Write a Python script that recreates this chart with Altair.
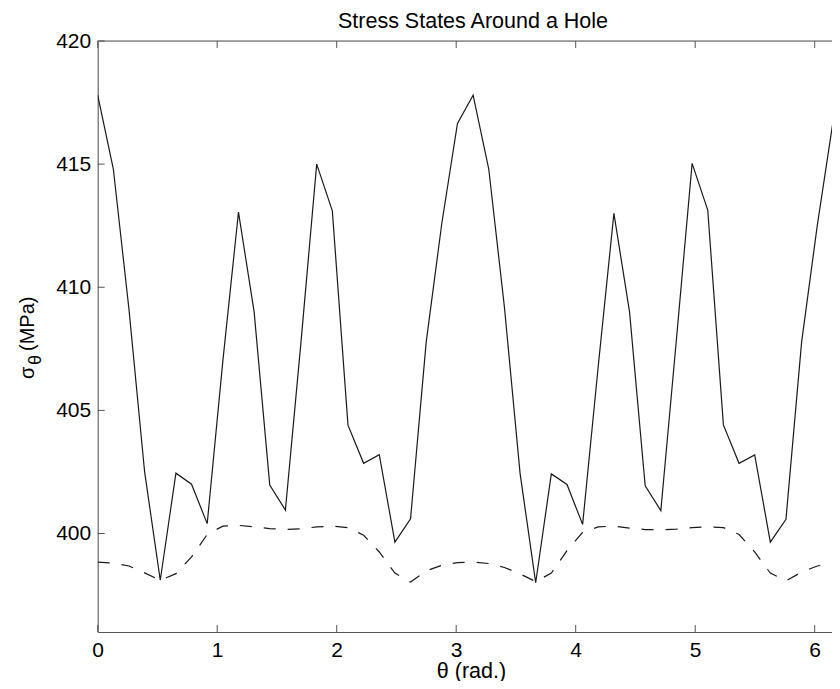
import altair as alt
import pandas as pd

# ---- data ----
theta = [0.0, 0.1309, 0.2618, 0.3927, 0.5236, 0.6545, 0.7854, 0.9163, 1.0472, 1.1781,
         1.3090, 1.4399, 1.5708, 1.7017, 1.8326, 1.9635, 2.0944, 2.2253, 2.3562, 2.4871,
         2.6180, 2.7489, 2.8798, 3.0107, 3.1416, 3.2725, 3.4034, 3.5343, 3.6652, 3.7961,
         3.9270, 4.0579, 4.1888, 4.3197, 4.4506, 4.5815, 4.7124, 4.8433, 4.9742, 5.1051,
         5.2360, 5.3669, 5.4978, 5.6287, 5.7596, 5.8905, 6.0214, 6.1523, 6.2832]

sigma_solid = [417.8, 414.8, 409.1, 402.5, 398.1, 402.45, 402.0, 400.4, 407.0, 413.05,
               409.0, 401.97, 400.95, 407.8, 415.0, 413.1, 404.4, 402.85, 403.2, 399.65,
               400.6, 407.77, 412.6, 416.65, 417.8, 414.8, 409.2, 402.45, 398.0, 402.42,
               401.99, 400.37, 406.8, 413.0, 409.0, 401.94, 400.93, 407.9, 415.03, 413.13,
               404.41, 402.85, 403.19, 399.65, 400.58, 407.77, 412.5, 416.7, 417.8]

sigma_dashed = [398.84, 398.8, 398.68, 398.4, 398.1, 398.37, 399.05, 399.96, 400.3, 400.33,
                400.27, 400.2, 400.16, 400.19, 400.27, 400.3, 400.24, 399.93, 399.25, 398.39,
                398.03, 398.48, 398.71, 398.82, 398.84, 398.78, 398.62, 398.36, 398.05, 398.39,
                399.3, 400.05, 400.27, 400.3, 400.22, 400.16, 400.15, 400.18, 400.24, 400.27,
                400.24, 399.96, 399.25, 398.39, 398.08, 398.43, 398.68, 398.79, 398.84]

x_tick_values = [0, 1, 2, 3, 4, 5, 6]
y_tick_values = [400, 405, 410, 415, 420]

title_text = "Stress States Around a Hole"
x_title = "θ (rad.)"

# ---- layout ----
FONT = "Liberation Sans"
W = 734.3          # visible part of the plot box (the box runs past the window in the reference)
H = 591
AXC = "#555555"

xs = alt.Scale(domain=[0, 6.1448], nice=False, zero=False)
ys = alt.Scale(domain=[396, 420], nice=False, zero=False)

xaxis = alt.Axis(values=x_tick_values, ticks=False, tickSize=0, grid=False,
                 labelFontSize=21, labelFont=FONT, labelColor="black", labelPadding=7,
                 labelFlush=False, domainColor=AXC, domainWidth=1,
                 title=x_title, titleFont=FONT, titleFontSize=21.5, titleFontWeight="normal",
                 titleColor="black", titleBaseline="alphabetic", titlePadding=17, titleX=373.3)
yaxis = alt.Axis(values=y_tick_values, ticks=False, tickSize=0, grid=False,
                 labelFontSize=21, labelFont=FONT, labelColor="black", labelPadding=7,
                 labelFlush=False, domainColor=AXC, domainWidth=1, title=None)

df_solid = pd.DataFrame({"theta": theta, "sigma": sigma_solid})
df_dash = pd.DataFrame({"theta": theta, "sigma": sigma_dashed})

solid = alt.Chart(df_solid).mark_line(color="#1a1a1a", strokeWidth=1.2, clip=True).encode(
    x=alt.X("theta:Q", scale=xs, axis=xaxis),
    y=alt.Y("sigma:Q", scale=ys, axis=yaxis),
)
dashed = alt.Chart(df_dash).mark_line(color="#1a1a1a", strokeWidth=1.2, strokeDash=[12, 12],
                                      clip=True).encode(
    x=alt.X("theta:Q", scale=xs, axis=xaxis),
    y=alt.Y("sigma:Q", scale=ys, axis=yaxis),
)

df_xt = pd.DataFrame({"t": x_tick_values})
df_yt = pd.DataFrame({"v": y_tick_values})

bottom_ticks = alt.Chart(df_xt).mark_rule(color=AXC, strokeWidth=1).encode(
    x=alt.X("t:Q", scale=xs, axis=xaxis), y=alt.value(H), y2=alt.value(H - 7))
top_ticks = alt.Chart(df_xt).mark_rule(color=AXC, strokeWidth=1).encode(
    x=alt.X("t:Q", scale=xs, axis=xaxis), y=alt.value(0), y2=alt.value(7))
left_ticks = alt.Chart(df_yt).mark_rule(color=AXC, strokeWidth=1).encode(
    y=alt.Y("v:Q", scale=ys, axis=yaxis), x=alt.value(0), x2=alt.value(7))
top_frame = alt.Chart(pd.DataFrame({"a": [0]})).mark_rule(color=AXC, strokeWidth=1).encode(
    x=alt.value(0), x2=alt.value(W), y=alt.value(0))

# chart title (centred over the full 0..2pi plot box)
title_mark = alt.Chart(pd.DataFrame({"s": [title_text]})).mark_text(
    font=FONT, fontSize=21.5, align="center", baseline="alphabetic", color="black"
).encode(x=alt.value(375.3), y=alt.value(-13.5), text="s:N")

# y-axis label: sigma with theta subscript, (MPa)
ylab_sigma = alt.Chart(pd.DataFrame({"s": ["σ"]})).mark_text(
    font=FONT, fontSize=20, angle=270, align="left", baseline="alphabetic", color="black"
).encode(x=alt.value(-64), y=alt.value(338), text="s:N")
ylab_sub = alt.Chart(pd.DataFrame({"s": ["θ"]})).mark_text(
    font=FONT, fontSize=18, angle=270, align="left", baseline="alphabetic", color="black"
).encode(x=alt.value(-57), y=alt.value(324), text="s:N")
ylab_unit = alt.Chart(pd.DataFrame({"s": ["(MPa)"]})).mark_text(
    font=FONT, fontSize=20, angle=270, align="left", baseline="alphabetic", color="black"
).encode(x=alt.value(-64), y=alt.value(310), text="s:N")

chart = alt.layer(
    top_frame, bottom_ticks, top_ticks, left_ticks, dashed, solid,
    title_mark, ylab_sigma, ylab_sub, ylab_unit,
).properties(
    width=W, height=H,
    autosize=alt.AutoSizeParams(type="none"),
    padding={"left": 89.7, "top": 33, "right": 0, "bottom": 49},
).configure_view(strokeWidth=0).configure(background="white")

chart.save("out.html", embed_options={"renderer": "svg", "actions": False})
